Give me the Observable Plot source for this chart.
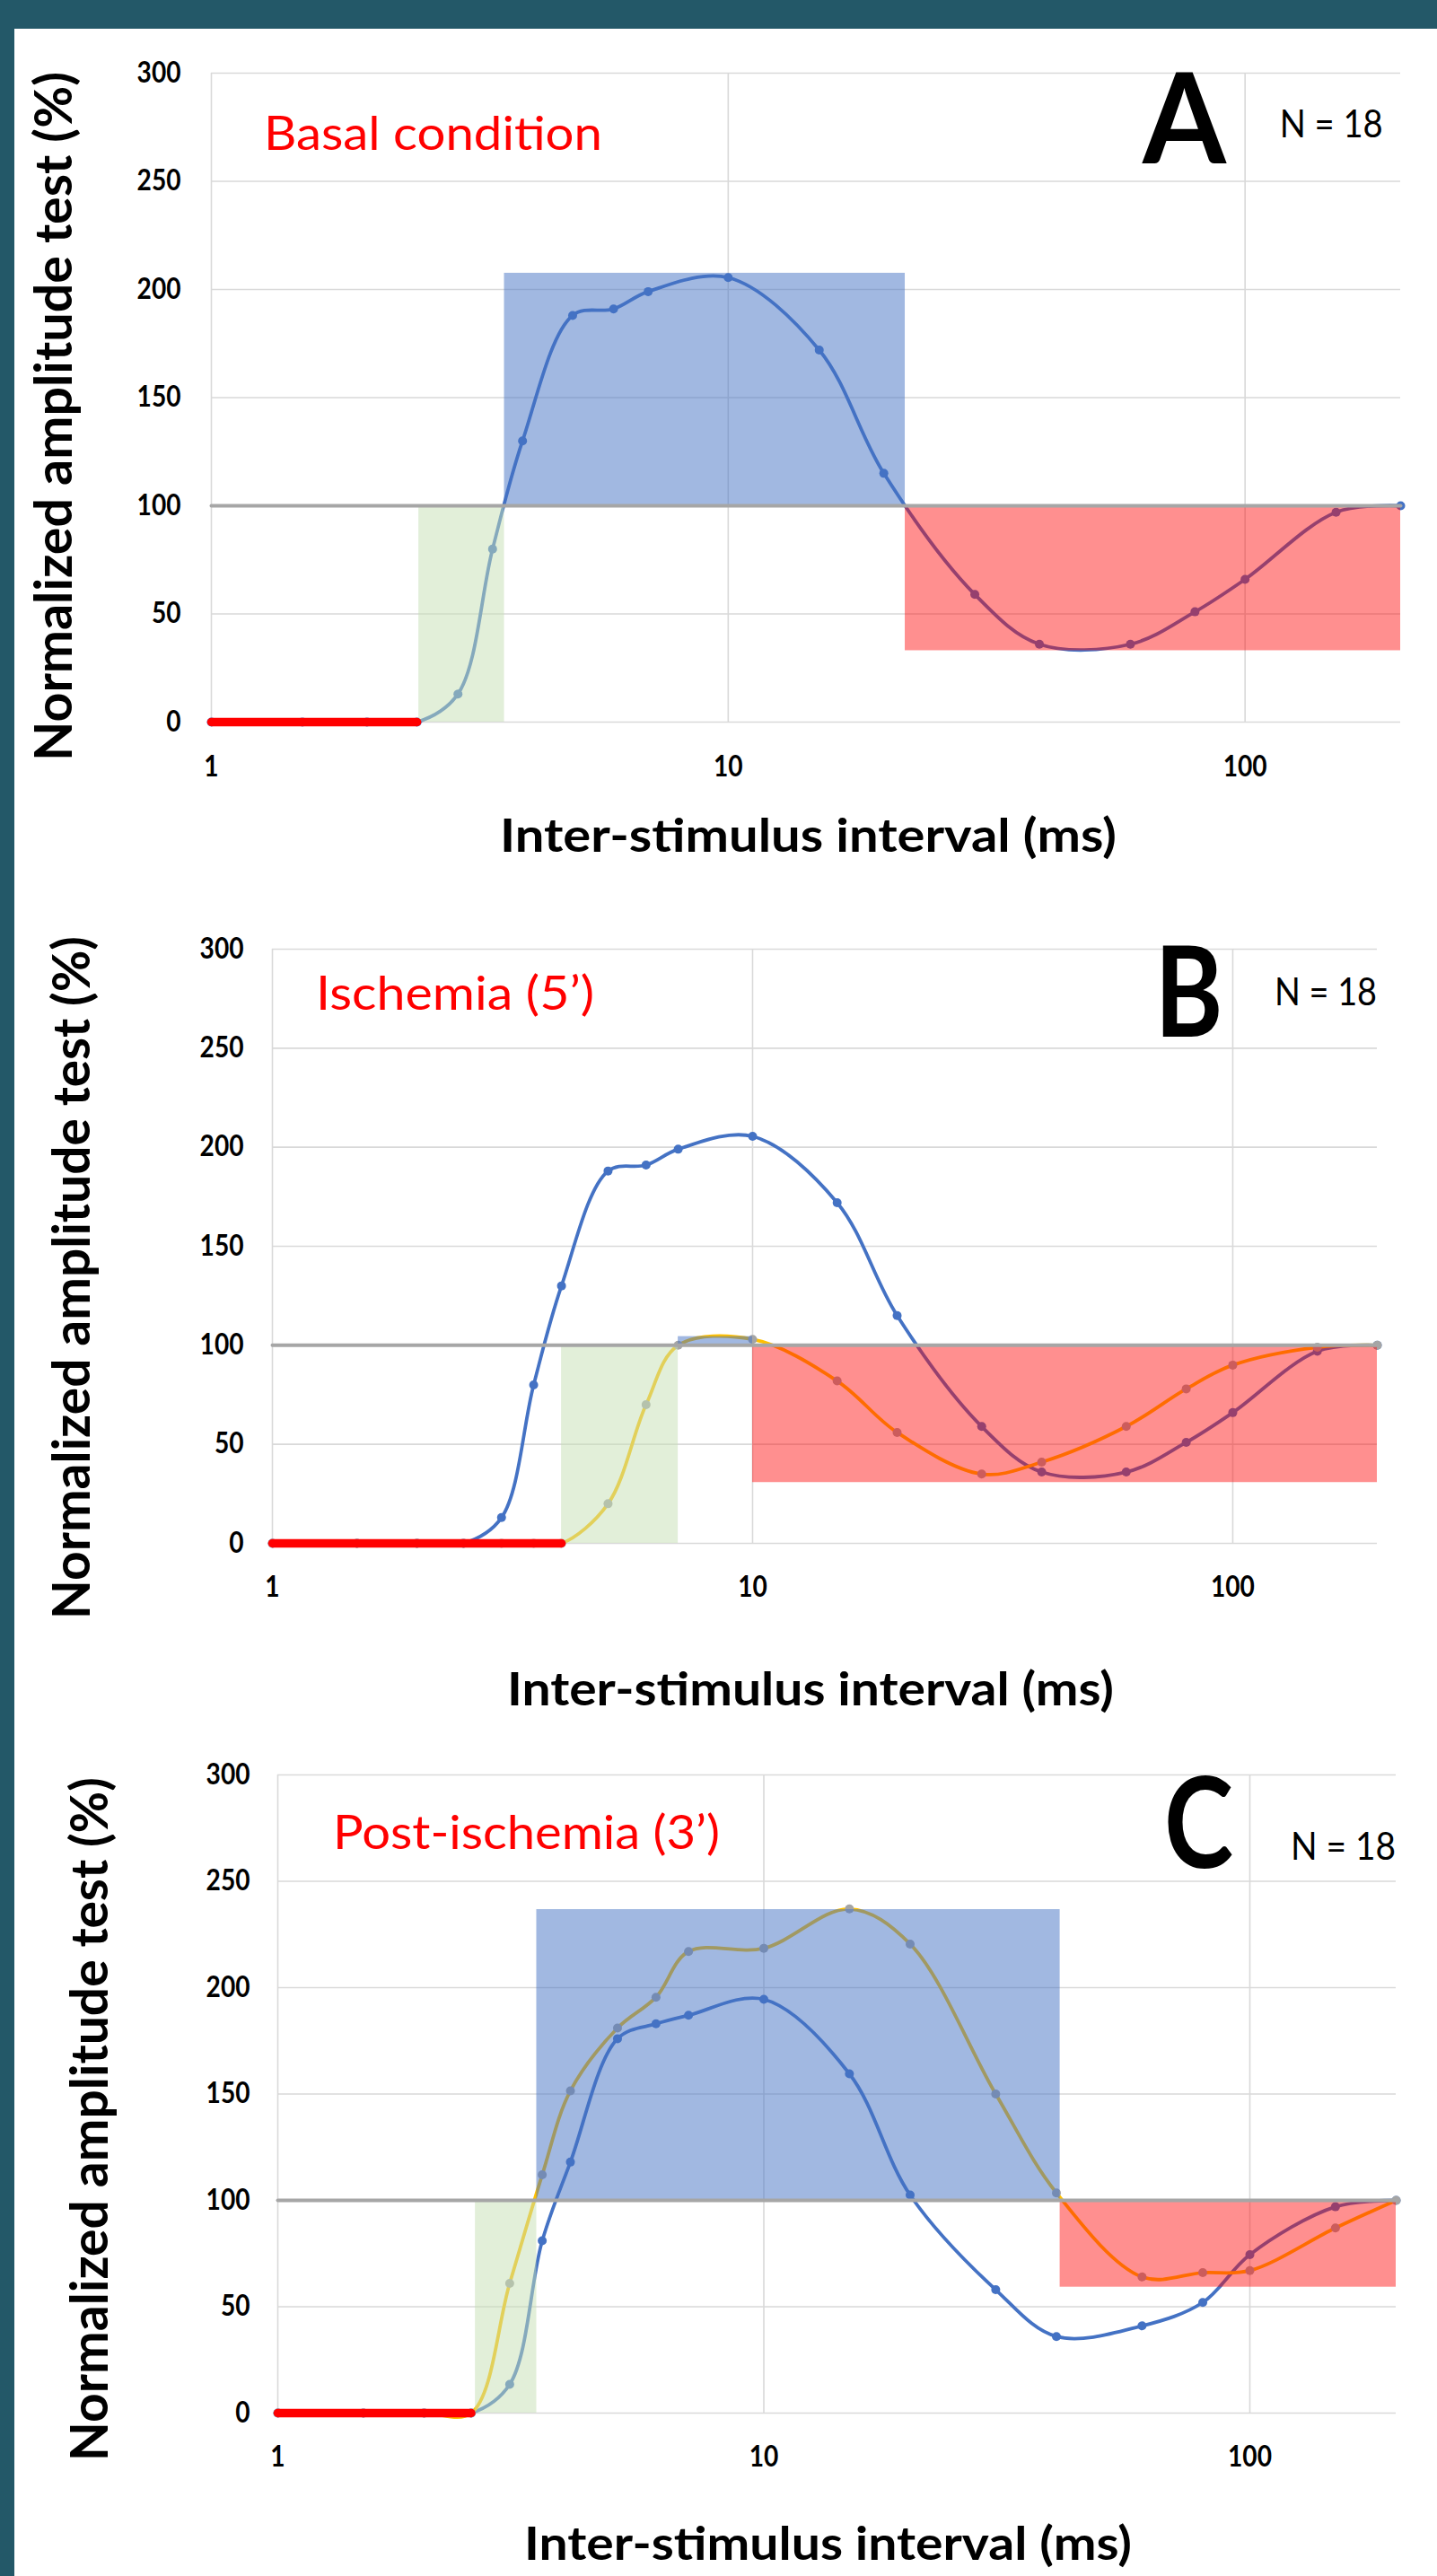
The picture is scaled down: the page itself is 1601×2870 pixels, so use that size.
<!DOCTYPE html>
<html>
<head>
<meta charset="utf-8">
<script src="https://cdn.jsdelivr.net/npm/d3@7"></script>
<script src="https://cdn.jsdelivr.net/npm/@observablehq/plot@0.6"></script>
<style>
html, body { margin: 0; padding: 0; background: #fff; overflow: hidden; }
#page { position: relative; width: 1601px; height: 2870px; background: #fff; }
.band { position: absolute; background: #235868; z-index: 5; }
.panel { position: absolute; left: 0; width: 1601px; }
</style>
</head>
<body>
<div id="page">
  <div class="band" style="left:0;top:0;width:1601px;height:32px"></div>
  <div class="band" style="left:0;top:0;width:16px;height:2870px"></div>
</div>
<script>
// ---------------- data ----------------
const xTicks = [1, 10, 100];
const yTicks = [0, 50, 100, 150, 200, 250, 300];
const xGridLines = [1, 10, 100];
const xDomain = [1, 200];
const yDomain = [0, 300];
const referenceX = [1, 200];
const referenceY = [100, 100];

// inter-stimulus intervals (ms)
const isi = [1, 1.5, 2, 2.5, 3, 3.5, 4, 5, 6, 7, 10, 15, 20, 30, 40, 60, 80, 100, 150, 200];

// Panel A / B : basal condition
const basal = [0, 0, 0, 0, 13, 80, 130, 188, 191, 199, 205.5, 172, 115, 59, 36, 36, 51, 66, 97, 100];
// Panel B : ischemia (5')
const ischemia = [0, 0, 0, 0, 0, 0, 0, 20, 70, 100, 103, 82, 56, 35, 41, 59, 78, 90, 99, 100];
// Panel C : basal and post-ischemia (3')
const basalC = [0, 0, 0, 0, 13.5, 81, 118, 176, 183, 187, 194.5, 159.5, 102.5, 58, 36, 41, 52, 74.5, 97, 100];
const postIschemia = [0, 0, 0, 0, 61, 112, 151.5, 181, 195.5, 217, 218.5, 237, 220.5, 150, 103.5, 64, 66, 67, 87, 100];

// zero (inexcitable) segment: from 1 ms to onset
const zeroA = [1, 2.5];
const zeroB = [1, 4];
const zeroC = [1, 2.5];

// shaded periods [x1, x2, y1, y2]
const greenA = [2.52, 3.69, 0, 100];
const blueA  = [3.69, 22.0, 100, 207.5];
const redA   = [22.0, 200, 33, 100];
const greenB = [4, 7, 0, 100];
const blueB  = [7, 10, 100, 104.4];
const redB   = [10, 200, 30.7, 100];
const greenC = [2.55, 3.41, 0, 100];
const blueC  = [3.41, 40.7, 100, 236.7];
const redC   = [40.7, 200, 59.2, 100];

const titles = ["Basal condition", "Ischemia (5\u2019)", "Post-ischemia (3\u2019)"];
const letters = ["A", "B", "C"];
const nLabel = "N = 18";
const xTitle = "Inter-stimulus interval (ms)";
const yTitle = "Normalized amplitude test (%)";

// ---------------- styling ----------------
const FONT = "Lato, 'Liberation Sans', sans-serif";
const BLUE = "#4472c4", GOLD = "#ffc000", MARK_GRAY = "#a5a5a5", REF_GRAY = "#a6a6a6", GRID = "#d9d9d9";
const GREEN_FILL = "#c5e0b4";

function pts(xs, ys) { return xs.map((x, i) => ({x, y: ys[i]})); }
function rectOf(r) { return [{x1: r[0], x2: r[1], y1: r[2], y2: r[3]}]; }

function addText(svg, o) {
  const t = d3.select(svg).append("text").text(o.text)
    .style("font-family", FONT)
    .style("font-size", o.size + "px")
    .style("font-weight", o.weight || "normal")
    .style("fill", o.fill || "#000")
    .attr("text-anchor", o.anchor || "start");
  if (o.rotate) t.attr("transform", `translate(${o.x},${o.y}) rotate(-90)`);
  else t.attr("x", o.x).attr("y", o.y);
  if (o.length) t.attr("textLength", o.length).attr("lengthAdjust", "spacingAndGlyphs");
}

function makePanel(cfg) {
  const seriesMarks = [];
  for (const s of cfg.series) {
    const d = pts(isi, s.values);
    seriesMarks.push(Plot.line(d, {x: "x", y: "y", stroke: s.line, strokeWidth: 3.8, curve: "catmull-rom"}));
    seriesMarks.push(Plot.dot(d, {x: "x", y: "y", r: 5, fill: s.marker, stroke: "none"}));
  }
  const svg = Plot.plot({
    width: 1601,
    height: cfg.height,
    marginLeft: cfg.mL, marginRight: cfg.mR, marginTop: cfg.mT, marginBottom: cfg.mB,
    style: {background: "transparent", fontFamily: FONT, fontSize: "32px", fontWeight: "bold", color: "#000"},
    x: {type: "log", domain: xDomain, ticks: xTicks, tickFormat: d => String(d), tickSize: 0, tickPadding: cfg.xPad, label: null},
    y: {domain: yDomain, ticks: yTicks, tickSize: 0, tickPadding: cfg.yPad, label: null},
    marks: [
      Plot.ruleY(yTicks, {stroke: GRID, strokeWidth: 1.6}),
      Plot.ruleX(xGridLines, {stroke: GRID, strokeWidth: 1.6}),
      ...seriesMarks,
      Plot.rect(rectOf(cfg.green), {x1: "x1", x2: "x2", y1: "y1", y2: "y2", fill: GREEN_FILL, fillOpacity: 0.5}),
      Plot.rect(rectOf(cfg.blue), {x1: "x1", x2: "x2", y1: "y1", y2: "y2", fill: BLUE, fillOpacity: 0.5}),
      Plot.rect(rectOf(cfg.red), {x1: "x1", x2: "x2", y1: "y1", y2: "y2", fill: "#ff0000", fillOpacity: 0.44}),
      Plot.line(pts(referenceX, referenceY), {x: "x", y: "y", stroke: REF_GRAY, strokeWidth: 4}),
      Plot.line(pts(cfg.zero, [0, 0]), {x: "x", y: "y", stroke: "#ff0000", strokeWidth: 9.5})
    ]
  });
  // condense tick labels
  svg.querySelectorAll("text").forEach(t => {
    const n = t.textContent.trim().length;
    if (n) { t.setAttribute("textLength", (n * 16.3).toFixed(1)); t.setAttribute("lengthAdjust", "spacingAndGlyphs"); }
  });
  const top = cfg.top;
  addText(svg, {text: cfg.title, x: cfg.tx, y: cfg.ty - top, size: 52, fill: "#ff0000", length: cfg.tlen});
  addText(svg, {text: cfg.letter, x: cfg.lx, y: cfg.ly - top, size: 140, weight: "bold", anchor: "middle", length: cfg.llen});
  addText(svg, {text: nLabel, x: cfg.nx, y: cfg.ny - top, size: 43, length: cfg.nlen});
  addText(svg, {text: xTitle, x: cfg.xtx, y: cfg.xty - top, size: 52, weight: "bold", anchor: "middle", length: cfg.xtlen});
  addText(svg, {text: yTitle, x: cfg.ytx, y: cfg.yty - top, size: 57, weight: "bold", anchor: "middle", length: cfg.ytlen, rotate: true});
  const div = document.createElement("div");
  div.className = "panel";
  div.style.top = top + "px";
  div.appendChild(svg);
  document.getElementById("page").appendChild(div);
}

makePanel({
  top: 0, height: 970, mL: 235, mR: 41, mT: 81, mB: 166, xPad: 38, yPad: 34,
  series: [{values: basal, line: BLUE, marker: BLUE}],
  green: greenA, blue: blueA, red: redA, zero: zeroA,
  title: titles[0], tx: 294, ty: 166.6, tlen: 377,
  letter: letters[0], lx: 1319.5, ly: 181.7, llen: 93,
  nx: 1425.7, ny: 152.7, nlen: 115,
  xtx: 900.5, xty: 949, xtlen: 687,
  ytx: 80, yty: 464, ytlen: 768
});

makePanel({
  top: 970, height: 960, mL: 303, mR: 67, mT: 87, mB: 211, xPad: 37, yPad: 32,
  series: [{values: basal, line: BLUE, marker: BLUE}, {values: ischemia, line: GOLD, marker: MARK_GRAY}],
  green: greenB, blue: blueB, red: redB, zero: zeroB,
  title: titles[1], tx: 352, ty: 1125, tlen: 310,
  letter: letters[1], lx: 1324.5, ly: 1155, llen: 76,
  nx: 1420, ny: 1120.4, nlen: 114,
  xtx: 903, xty: 1900, xtlen: 676,
  ytx: 100, yty: 1423.5, ytlen: 761
});

makePanel({
  top: 1930, height: 940, mL: 309, mR: 46, mT: 47, mB: 182, xPad: 37, yPad: 31,
  series: [{values: basalC, line: BLUE, marker: BLUE}, {values: postIschemia, line: GOLD, marker: MARK_GRAY}],
  green: greenC, blue: blueC, red: redC, zero: zeroC,
  title: titles[2], tx: 371, ty: 2060, tlen: 431,
  letter: letters[2], lx: 1335.5, ly: 2081, llen: 77,
  nx: 1438, ny: 2072, nlen: 117,
  xtx: 922.5, xty: 2852, xtlen: 677,
  ytx: 120, yty: 2361, ytlen: 762
});
</script>
</body>
</html>
